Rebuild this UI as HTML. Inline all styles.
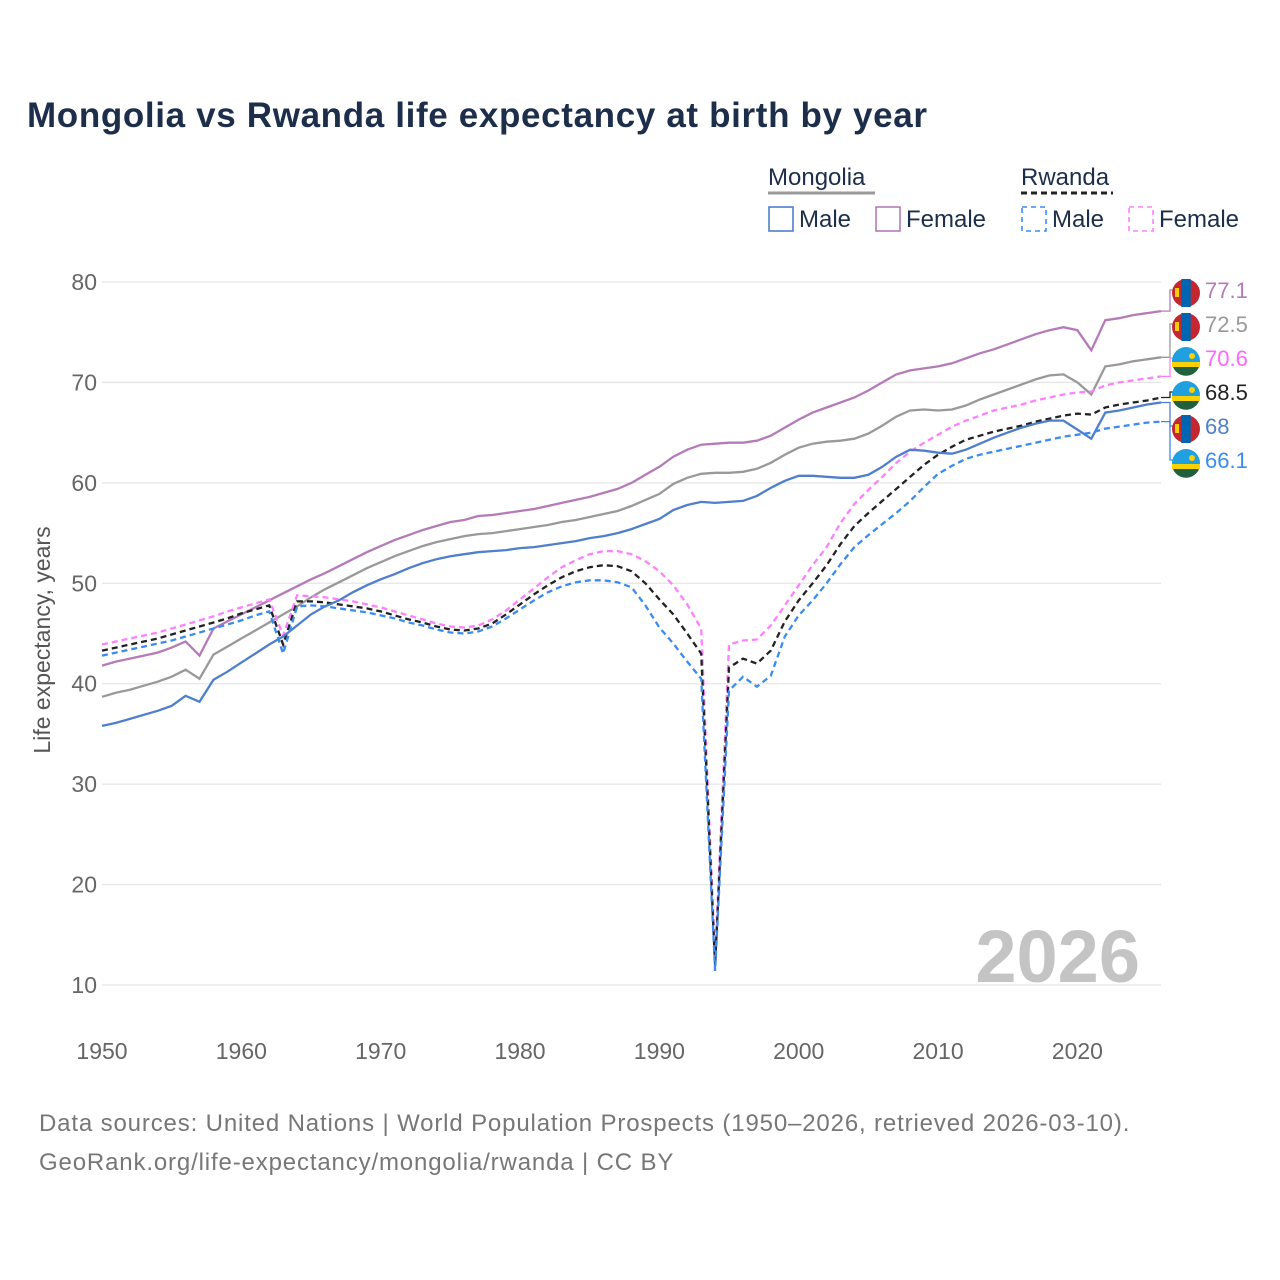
<!DOCTYPE html>
<html><head><meta charset="utf-8">
<style>
body{margin:0;background:#fff;font-family:"Liberation Sans",sans-serif;}
#wrap{position:relative;width:1280px;height:1280px;overflow:hidden;}
.t{position:absolute;white-space:nowrap;}
</style></head><body>
<div id="wrap">
<div class="t" style="left:27px;top:96px;font-size:35px;font-weight:bold;color:#1c2e4a;letter-spacing:0.65px;">Mongolia vs Rwanda life expectancy at birth by year</div>
<div class="t" style="left:39px;top:1104px;font-size:24px;color:#777;line-height:39px;letter-spacing:0.85px;">Data sources: United Nations | World Population Prospects (1950–2026, retrieved 2026-03-10).<br>GeoRank.org/life-expectancy/mongolia/rwanda | CC BY</div>
<svg id="chart" width="1280" height="1280" style="position:absolute;left:0;top:0"></svg>
</div>
<script>
const years=[];for(let y=1950;y<=2026;y++)years.push(y);
const mnMale=[35.8,36.1,36.5,36.9,37.3,37.8,38.8,38.2,40.4,41.2,42.1,43.0,43.9,44.7,45.8,46.9,47.7,48.3,49.1,49.8,50.4,50.9,51.5,52.0,52.4,52.7,52.9,53.1,53.2,53.3,53.5,53.6,53.8,54.0,54.2,54.5,54.7,55.0,55.4,55.9,56.4,57.3,57.8,58.1,58.0,58.1,58.2,58.7,59.5,60.2,60.7,60.7,60.6,60.5,60.5,60.8,61.6,62.6,63.3,63.2,63.0,62.9,63.3,63.9,64.5,65.0,65.5,65.9,66.2,66.2,65.3,64.4,67.0,67.2,67.5,67.8,68.0];
const mnFemale=[41.8,42.2,42.5,42.8,43.1,43.6,44.2,42.8,45.5,46.2,46.9,47.6,48.3,49.0,49.7,50.4,51.0,51.7,52.4,53.1,53.7,54.3,54.8,55.3,55.7,56.1,56.3,56.7,56.8,57.0,57.2,57.4,57.7,58.0,58.3,58.6,59.0,59.4,60.0,60.8,61.6,62.6,63.3,63.8,63.9,64.0,64.0,64.2,64.7,65.5,66.3,67.0,67.5,68.0,68.5,69.2,70.0,70.8,71.2,71.4,71.6,71.9,72.4,72.9,73.3,73.8,74.3,74.8,75.2,75.5,75.2,73.2,76.2,76.4,76.7,76.9,77.1];
const mnTotal=[38.7,39.1,39.4,39.8,40.2,40.7,41.4,40.5,42.9,43.7,44.5,45.3,46.1,46.9,47.7,48.6,49.4,50.1,50.8,51.5,52.1,52.7,53.2,53.7,54.1,54.4,54.7,54.9,55.0,55.2,55.4,55.6,55.8,56.1,56.3,56.6,56.9,57.2,57.7,58.3,58.9,59.9,60.5,60.9,61.0,61.0,61.1,61.4,62.0,62.8,63.5,63.9,64.1,64.2,64.4,64.9,65.7,66.6,67.2,67.3,67.2,67.3,67.7,68.3,68.8,69.3,69.8,70.3,70.7,70.8,70.0,68.8,71.6,71.8,72.1,72.3,72.5];
const rwMale=[42.8,43.1,43.4,43.7,44.0,44.3,44.7,45.1,45.5,45.9,46.3,46.8,47.2,43.0,47.7,47.8,47.7,47.5,47.3,47.1,46.8,46.5,46.1,45.8,45.4,45.1,45.0,45.2,45.7,46.5,47.4,48.3,49.1,49.7,50.1,50.3,50.3,50.1,49.6,47.8,45.6,44.0,42.2,40.5,11.4,39.3,40.7,39.7,40.8,44.7,46.8,48.3,50.0,51.9,53.6,54.8,55.9,57.0,58.2,59.6,60.9,61.7,62.4,62.8,63.1,63.4,63.7,64.0,64.3,64.6,64.8,65.0,65.4,65.6,65.8,66.0,66.1];
const rwFemale=[43.9,44.2,44.5,44.8,45.1,45.5,45.9,46.3,46.7,47.2,47.6,48.0,48.4,44.8,48.8,48.7,48.6,48.4,48.2,47.9,47.6,47.2,46.8,46.4,46.0,45.7,45.6,45.8,46.4,47.3,48.4,49.5,50.6,51.6,52.3,52.9,53.2,53.2,52.9,52.2,51.2,49.8,47.9,45.5,12.5,43.9,44.3,44.4,45.8,47.8,49.8,51.8,53.6,56.0,57.9,59.3,60.6,62.0,63.1,64.0,64.8,65.6,66.2,66.7,67.2,67.5,67.8,68.2,68.5,68.8,69.0,69.1,69.7,70.0,70.2,70.4,70.6];
const rwTotal=[43.3,43.6,43.9,44.2,44.5,44.9,45.3,45.7,46.1,46.5,47.0,47.4,47.8,43.9,48.2,48.2,48.1,47.9,47.7,47.5,47.2,46.8,46.4,46.1,45.7,45.4,45.3,45.5,46.0,46.9,47.9,48.9,49.8,50.6,51.2,51.6,51.8,51.7,51.2,50.0,48.4,46.9,45.0,43.0,11.9,41.6,42.5,42.0,43.3,46.2,48.3,50.0,51.8,53.9,55.7,57.0,58.2,59.4,60.6,61.8,62.8,63.6,64.3,64.7,65.1,65.4,65.7,66.1,66.4,66.7,66.9,66.8,67.5,67.8,68.0,68.2,68.5];
const yTicks=[10,20,30,40,50,60,70,80];
const xTicks=[1950,1960,1970,1980,1990,2000,2010,2020];
const svg=document.getElementById('chart');const NS='http://www.w3.org/2000/svg';
const X=v=>102+(v-1950)*(1161-102)/76;
const Y=v=>282+(80-v)*(985-282)/70;
function mk(tag,attrs,parent){const e=document.createElementNS(NS,tag);for(const k in attrs)e.setAttribute(k,attrs[k]);(parent||svg).appendChild(e);return e;}
yTicks.forEach(t=>{
 const l=mk('line',{x1:102,x2:1161,y1:Y(t),y2:Y(t),stroke:'#e6e6e6','stroke-width':1.3});
 
 
 const tx=mk('text',{x:97,y:Y(t)+8,'text-anchor':'end','font-size':23,fill:'#666','font-family':'Liberation Sans, sans-serif'});tx.textContent=t;
 
 
});
xTicks.forEach(t=>{
 const tx=mk('text',{x:X(t),y:1059,'text-anchor':'middle','font-size':23,fill:'#666','font-family':'Liberation Sans, sans-serif'});tx.textContent=t;
 
 
});
const yt=mk('text',{x:0,y:0,transform:'translate(50,640) rotate(-90)','text-anchor':'middle','font-size':23,fill:'#555','font-family':'Liberation Sans, sans-serif'});yt.textContent='Life expectancy, years';


const yr=mk('text',{x:1140,y:982,'text-anchor':'end','font-size':74,'font-weight':'bold',fill:'#c4c4c4','font-family':'Liberation Sans, sans-serif'});yr.textContent='2026';


const series=[
 {n:'mongolia-female',d:mnFemale,c:'#b57bb8',dash:null,ly:290,lc:'#b57bb8'},
 {n:'mongolia-total',d:mnTotal,c:'#999999',dash:null,ly:324,lc:'#999'},
 {n:'rwanda-female',d:rwFemale,c:'#ff80ff',dash:'6,4',ly:358,lc:'#ff66ff'},
 {n:'rwanda-total',d:rwTotal,c:'#222222',dash:'6,4',ly:392,lc:'#222'},
 {n:'mongolia-male',d:mnMale,c:'#4f7fcc',dash:null,ly:426,lc:'#4f7fcc'},
 {n:'rwanda-male',d:rwMale,c:'#3a8cf2',dash:'6,4',ly:460,lc:'#3a8cf2'}];
series.forEach(s=>{
 const p=s.d.map((v,i)=>(i?'L':'M')+X(years[i]).toFixed(1)+','+Y(v).toFixed(1)).join(' ');
 const a={d:p,fill:'none',stroke:s.c,'stroke-width':2.3};if(s.dash)a['stroke-dasharray']=s.dash;
 const e=mk('path',a);
 
 
 const last=s.d[s.d.length-1];
 const cn=mk('path',{d:`M1161,${Y(last)} L1170,${Y(last)} L1170,${s.ly} L1176,${s.ly}`,fill:'none',stroke:s.c,'stroke-width':1.3});
 
 
 const g=mk('g',{});
 
 
 const cx=1186,cy=s.ly+3;
 if(s.n.startsWith('mongolia')){
  mk('circle',{cx,cy,r:14,fill:'#c4272f'},g);
  mk('rect',{x:cx-4.7,y:cy-14,width:9.4,height:28,fill:'#0066b2'},g);
  mk('rect',{x:cx-11,y:cy-5,width:4,height:9,fill:'#f9cf02'},g);
 } else {
  mk('circle',{cx,cy,r:14,fill:'#20a0de'},g);
  mk('rect',{x:cx-14,y:cy+1,width:28,height:5,fill:'#fad201'},g);
  mk('path',{d:`M${cx-13},${cy+6} L${cx+13},${cy+6} A14,14 0 0 1 ${cx-13},${cy+6}Z`,fill:'#20603d'},g);
  mk('circle',{cx:cx+6,cy:cy-5,r:3,fill:'#fad201'},g);
 }
 const t=mk('text',{x:1205,y:s.ly+8,'font-size':22,fill:s.lc,'font-family':'Liberation Sans, sans-serif'});t.textContent=String(last);
 
 
});
function legText(x,y,txt,name){const t=mk('text',{x,y,'font-size':24,fill:'#1c2e4a','font-family':'Liberation Sans, sans-serif'});t.textContent=txt;
 
 return t;}
legText(768,185,'Mongolia','legend-mongolia-title');
mk('line',{x1:768,x2:875,y1:193,y2:193,stroke:'#999','stroke-width':3});
legText(1021,185,'Rwanda','legend-rwanda-title');
mk('line',{x1:1021,x2:1113,y1:193,y2:193,stroke:'#222','stroke-width':3,'stroke-dasharray':'6,4'});
const lg=[[769,'#4f7fcc',null,'Male','legend-mongolia-male'],[876,'#b57bb8',null,'Female','legend-mongolia-female'],[1022,'#3a8cf2','5,4','Male','legend-rwanda-male'],[1129,'#ff80ff','5,4','Female','legend-rwanda-female']];
lg.forEach(l=>{const a={x:l[0],y:207,width:24,height:24,fill:'none',stroke:l[1],'stroke-width':1.6};if(l[2])a['stroke-dasharray']=l[2];
 const r=mk('rect',a);
 
 
 legText(l[0]+30,227,l[3],l[4]);});
</script>
</body></html>
